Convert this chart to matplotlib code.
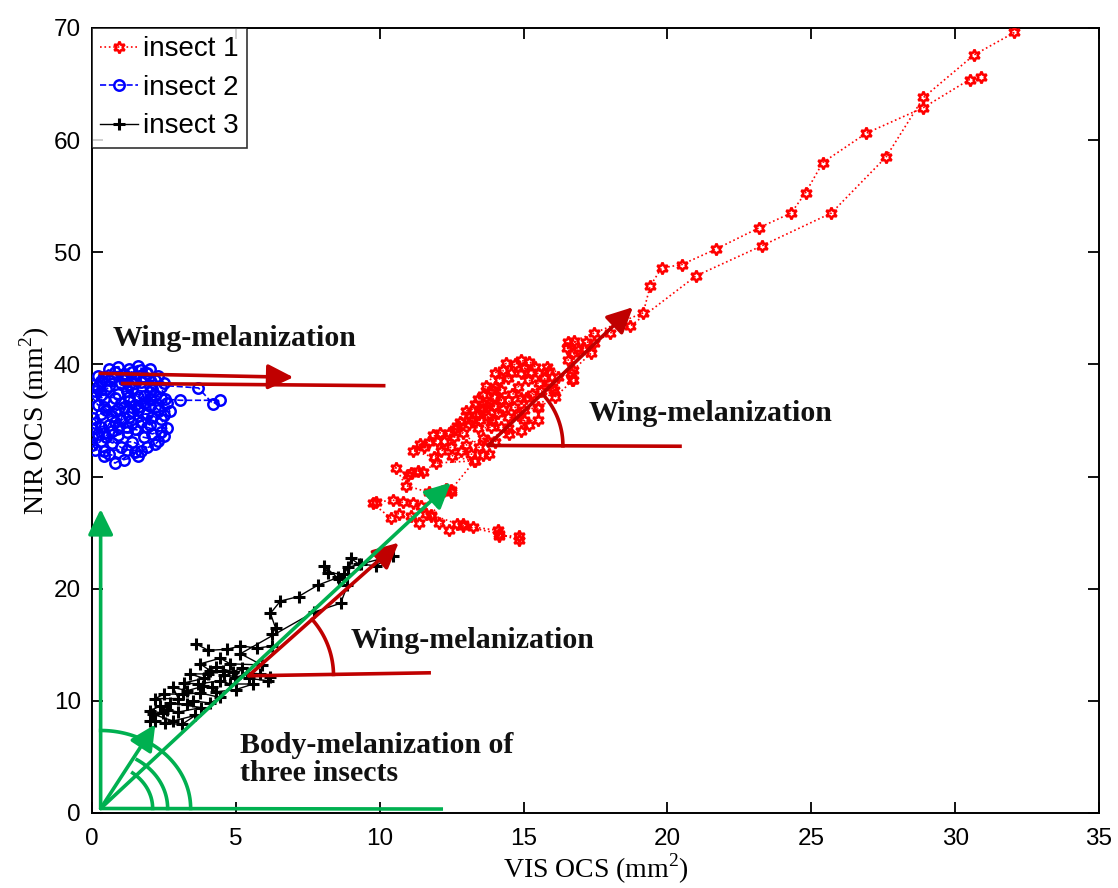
import numpy as np
import matplotlib
matplotlib.use("Agg")
import matplotlib.pyplot as plt

# ---- trajectories in the (VIS OCS, NIR OCS) plane, mm^2 ----
insect1_vis = [32.06, 30.66, 28.9, 27.6, 25.7, 23.3, 21.0, 18.7, 18.0, 17.46, 17.18, 16.55, 16.5, 16.72,
               17.35, 16.72, 16.72, 16.1, 15.5, 15.5, 15.0, 14.46, 14.1, 14.46, 14.67, 15.0, 15.5, 16.06,
               15.9, 15.7, 15.5, 15.26, 15.0, 14.56, 14.46, 14.8, 15.15, 15.54, 15.3, 14.9, 14.3, 13.9,
               13.5, 13.17, 13.4, 13.87, 14.2, 14.46, 13.76, 13.45, 12.9, 12.58, 12.23, 11.85, 11.53, 11.15,
               11.9, 12.13, 12.47, 12.82, 13.17, 13.6, 13.8, 13.28, 11.95, 11.5, 11.32, 11.08, 10.98, 10.56,
               10.9, 11.7, 12.3, 12.47, 11.43, 11.15, 10.8, 10.45, 9.86, 9.76, 10.38, 10.66, 11.08, 11.36,
               11.6, 11.78, 12.06, 12.4, 12.7, 12.9, 13.24, 14.1, 14.15, 14.84, 14.84, 14.15, 12.9, 11.78,
               12.47, 13.3, 12.5, 13.0, 13.6, 14.0, 14.5, 14.9, 15.2, 14.8, 14.2, 13.6, 13.1, 12.6, 12.1,
               11.7, 11.4, 12.0, 12.4, 12.8, 13.1, 13.4, 13.7, 14.0, 14.4, 14.9, 15.4, 15.9, 16.2, 16.0,
               15.6, 15.1, 14.6, 14.2, 13.8, 13.5, 12.7, 13.0, 13.3, 13.6, 13.97, 13.76, 13.45, 13.76,
               13.97, 13.9, 14.2, 14.0, 14.15, 14.3, 14.7, 14.9, 15.2, 15.8, 16.7, 16.65, 16.55, 16.9,
               17.1, 16.76, 17.46, 19.16, 19.4, 19.8, 20.5, 21.7, 23.2, 24.3, 24.8, 25.4, 26.9, 28.9,
               30.5, 30.9]
insect1_nir = [69.6, 67.6, 63.8, 58.5, 53.5, 50.6, 47.9, 43.4, 42.8, 41.9, 42.0, 42.0, 41.5, 41.0,
               41.0, 39.5, 38.6, 37.1, 36.1, 35.0, 35.0, 35.3, 35.7, 36.8, 36.2, 35.9, 36.2, 37.7,
               38.3, 38.8, 39.2, 39.3, 39.7, 39.2, 38.8, 38.0, 38.6, 38.3, 37.4, 37.0, 36.0, 35.0,
               35.0, 35.0, 34.3, 34.4, 34.4, 34.3, 33.2, 32.6, 33.9, 33.5, 33.2, 33.7, 32.6, 32.3,
               31.7, 32.3, 32.6, 32.3, 32.0, 31.9, 32.0, 31.4, 31.2, 30.4, 30.5, 30.3, 30.1, 30.8,
               29.2, 28.6, 28.9, 28.6, 27.4, 27.6, 27.7, 27.9, 27.7, 27.6, 26.3, 26.7, 26.5, 25.9,
               26.7, 26.5, 25.9, 25.2, 25.8, 25.8, 25.5, 25.2, 24.7, 24.7, 24.3, 24.9, 25.6, 26.6,
               28.8, 31.4, 31.8, 32.8, 33.4, 33.1, 33.8, 34.1, 34.6, 35.5, 36.8, 36.0, 34.7, 34.2, 33.9,
               33.1, 32.9, 33.2, 33.9, 34.9, 35.5, 36.9, 38.1, 39.2, 40.1, 40.4, 39.8, 39.4, 38.9, 38.0,
               37.6, 37.0, 37.4, 36.8, 36.6, 36.0, 34.5, 35.8, 36.5, 37.3, 37.1, 36.2, 35.6, 35.3,
               36.3, 37.7, 37.7, 38.0, 38.6, 39.5, 40.0, 39.2, 40.2, 39.8, 38.6, 39.2, 40.4, 41.3,
               41.5, 42.1, 42.8, 44.6, 47.0, 48.6, 48.9, 50.3, 52.2, 53.5, 55.3, 58.0, 60.6, 62.9,
               65.4, 65.6]

insect2_vis = [0.3, 0.8, 1.3, 1.6, 1.9, 2.2, 1.7, 1.2, 0.6, 0.1, 0.4, 0.9, 1.4, 2.0, 2.4, 1.8, 1.1, 0.5,
               0.05, 0.3, 0.8, 1.3, 1.9, 2.4, 2.6, 2.1, 1.5, 0.9, 0.3, 0.1, 0.6, 1.1, 1.6, 1.9, 1.4, 0.7,
               0.2, 0.6, 1.2, 1.7, 2.3, 2.0, 1.5, 0.9, 0.2, 0.0, 0.5, 1.0, 1.6, 2.2, 2.5, 2.0, 1.4, 0.7,
               0.1, 0.4, 1.0, 1.5, 0.8, 0.4, 0.0, 0.5, 1.2, 1.8, 2.3, 2.4, 1.9, 1.3, 0.8, 0.3, 0.6, 1.1,
               1.5, 2.0, 2.5, 2.3, 1.8, 1.3, 0.7, 0.2, 0.4, 1.0, 1.6, 2.1, 0.2, 0.9, 1.4, 2.0, 2.4, 2.6,
               2.7, 2.5, 2.2, 1.7, 1.2, 0.4, 0.0, 0.0, 0.7, 1.4, 2.1, 1.0, 0.3, 0.8, 1.8, 1.2, 0.4, 0.05,
               0.6, 1.1, 1.7, 2.2, 1.6, 0.9, 1.5, 3.7, 4.2, 4.46, 3.07, 2.54, 2.0, 1.3]
insect2_nir = [38.5, 39.3, 39.6, 39.9, 39.2, 38.6, 38.4, 38.9, 38.1, 37.6, 36.9, 37.4, 37.8, 37.5, 37.0,
               36.6, 36.2, 35.9, 35.2, 34.4, 34.9, 35.3, 35.6, 35.1, 34.3, 33.8, 34.2, 33.7, 33.2, 32.4,
               32.0, 31.5, 31.8, 32.6, 33.1, 33.0, 33.8, 34.6, 34.4, 34.9, 35.9, 36.9, 36.4, 36.0, 36.4,
               37.1, 37.8, 38.3, 37.1, 36.2, 35.5, 34.6, 35.8, 35.4, 34.8, 33.9, 32.6, 32.2, 31.2, 31.8,
               32.8, 33.5, 34.0, 33.5, 33.2, 34.0, 34.4, 36.7, 37.0, 37.3, 38.6, 39.1, 38.7, 38.1, 38.3,
               39.0, 38.9, 38.2, 38.8, 38.0, 36.2, 35.0, 35.9, 37.8, 39.0, 39.8, 39.3, 39.6, 38.0, 36.6,
               35.8, 33.6, 32.9, 32.3, 32.4, 32.3, 33.5, 34.2, 34.1, 34.8, 35.3, 36.6, 35.6, 35.8, 37.2,
               37.6, 38.9, 38.2, 39.6, 38.6, 39.5, 37.3, 36.2, 34.4, 38.3, 37.9, 36.5, 36.8, 36.8, 36.9,
               36.3, 37.1]

insect3_vis = [2.02, 2.2, 2.54, 3.13, 3.59, 2.82, 2.13, 2.47, 2.02, 2.37, 2.6, 3.0, 3.8, 2.72, 3.3,
               3.52, 4.1, 4.46, 3.76, 3.17, 2.5, 2.2, 3.0, 2.82, 3.3, 3.87, 4.18, 4.3, 5.0, 5.6, 4.8,
               4.46, 3.7, 3.2, 3.9, 3.4, 4.04, 4.56, 4.6, 5.44, 6.1, 6.2, 5.85, 5.4, 4.98, 5.2, 4.9,
               4.3, 4.1, 3.76, 4.46, 4.8, 5.9, 5.16, 7.7, 8.64, 8.88, 9.0, 9.27, 9.86, 10.45, 10.1,
               9.34, 8.9, 8.75, 8.2, 8.05, 8.57, 8.54, 7.84, 7.18, 6.55, 6.2, 6.38, 6.27, 6.27, 5.75,
               5.16, 4.7, 4.04, 3.6]
insect3_nir = [8.2, 8.2, 8.0, 7.9, 8.7, 8.2, 8.8, 8.9, 9.1, 9.55, 9.2, 9.0, 9.4, 9.8, 9.7,
               10.0, 9.8, 10.3, 10.7, 10.6, 10.6, 10.2, 10.2, 11.2, 10.9, 11.3, 11.2, 10.8, 11.0, 11.5, 11.5,
               11.8, 11.5, 11.6, 12.0, 12.4, 12.4, 12.7, 12.3, 12.0, 11.8, 12.1, 12.4, 12.5, 12.05, 12.9, 12.6,
               13.0, 12.7, 13.3, 13.8, 13.3, 13.2, 14.2, 17.9, 18.7, 20.3, 22.7, 22.2, 22.05, 22.9, 22.7,
               22.2, 21.9, 21.3, 21.4, 22.05, 20.9, 21.0, 20.3, 19.3, 18.9, 17.8, 16.5, 16.0, 14.9, 14.7,
               14.9, 14.6, 14.5, 15.1]

series_labels = ["insect 1", "insect 2", "insect 3"]
x_ticks = [0, 5, 10, 15, 20, 25, 30, 35]
y_ticks = [0, 10, 20, 30, 40, 50, 60, 70]

DARK_RED = "#C00000"
GREEN = "#00B050"
SERIF = ["Liberation Serif", "DejaVu Serif"]
SANS = ["Liberation Sans", "DejaVu Sans"]

plt.rcParams["font.family"] = SANS
plt.rcParams["mathtext.fontset"] = "custom"
plt.rcParams["mathtext.rm"] = "Liberation Serif"

fig = plt.figure(figsize=(11.18, 8.88), dpi=100)
ax = fig.add_axes([0.0823, 0.0845, 0.9007, 0.884])
ax.set_xlim(0, 35)
ax.set_ylim(0, 70)

star6 = (6, 1, 0)
ax.plot(insect1_vis, insect1_nir, ls=":", color="red", lw=1.2, marker=star6, ms=8.5,
        mfc="none", mec="red", mew=1.8, label=series_labels[0], zorder=3)
ax.plot(insect2_vis, insect2_nir, ls="--", color="blue", lw=1.2, marker="o", ms=7.5,
        mfc="none", mec="blue", mew=1.8, label=series_labels[1], zorder=3)
ax.plot(insect3_vis, insect3_nir, ls="-", color="black", lw=1.0, marker="+", ms=9,
        mew=2.2, label=series_labels[2], zorder=3)


def arrow(p0, p1, color):
    ax.annotate("", xy=p1, xytext=p0,
                arrowprops=dict(arrowstyle="-|>,head_length=0.65,head_width=0.32",
                                mutation_scale=24, lw=2.6, color=color,
                                shrinkA=0, shrinkB=0), zorder=4)


def segment(p0, p1, color):
    ax.plot([p0[0], p1[0]], [p0[1], p1[1]], color=color, lw=2.6, zorder=4,
            solid_capstyle="butt")


def angle_of(p0, p1):
    a = ax.transData.transform(p0)
    b = ax.transData.transform(p1)
    return np.degrees(np.arctan2(b[1] - a[1], b[0] - a[0]))


def arc(center, rx, ry, t1, t2, color):
    c = ax.transData.transform(center)
    t = np.radians(np.linspace(t1, t2, 80))
    pts = np.column_stack([c[0] + rx * np.cos(t), c[1] + ry * np.sin(t)])
    d = ax.transData.inverted().transform(pts)
    ax.plot(d[:, 0], d[:, 1], color=color, lw=2.6, zorder=4)


# wing melanization of insect 2
arrow((0.28, 39.2), (7.0, 38.85), DARK_RED)
segment((1.0, 38.3), (10.2, 38.1), DARK_RED)

# wing melanization of insect 1
v1, tip1, end1 = (13.76, 32.77), (18.8, 45.1), (20.5, 32.7)
arrow(v1, tip1, DARK_RED)
segment(v1, end1, DARK_RED)
arc(v1, 75, 75, angle_of(v1, end1), angle_of(v1, tip1), DARK_RED)

# wing melanization of insect 3
v3, tip3, end3 = (5.44, 12.23), (10.66, 24.1), (11.78, 12.5)
arrow(v3, tip3, DARK_RED)
segment(v3, end3, DARK_RED)
arc(v3, 85, 85, angle_of(v3, end3), angle_of(v3, tip3), DARK_RED)

# body melanization
o = (0.3, 0.4)
arrow(o, (0.3, 27.1), GREEN)
segment(o, (12.2, 0.35), GREEN)
arrow(o, (12.47, 29.46), GREEN)
arrow(o, (2.2, 7.9), GREEN)
arc(o, 52, 45, 0, 52, GREEN)
arc(o, 67, 58, 0, 57, GREEN)
arc(o, 90, 78, 0, 90, GREEN)

txt = dict(family=SERIF, fontweight="bold", fontsize=21.5, color="#111111",
           va="center", ha="left", zorder=5)
ax.text(0.70, 42.3, "Wing-melanization", **txt)
ax.text(17.25, 35.6, "Wing-melanization", **txt)
ax.text(8.99, 15.36, "Wing-melanization", **txt)
ax.text(5.16, 4.73, "Body-melanization of\nthree insects", linespacing=1.05, **txt)

ax.set_xticks(x_ticks)
ax.set_yticks(y_ticks)
ax.tick_params(direction="in", length=8, width=1.3, top=True, right=True,
               labelsize=17.5, colors="black")
ax.tick_params(axis="x", pad=11)
ax.tick_params(axis="y", pad=8)
for s in ax.spines.values():
    s.set_linewidth(1.4)

ax.set_xlabel(r"VIS OCS (mm$^{\mathregular{2}}$)", family=SERIF, fontsize=20, labelpad=1)
ax.set_ylabel(r"NIR OCS (mm$^{\mathregular{2}}$)", family=SERIF, fontsize=20, labelpad=1)

leg = ax.legend(loc="upper left", fontsize=20, frameon=True, fancybox=False,
                edgecolor="black", borderaxespad=0, handlelength=1.35,
                handletextpad=0.2, borderpad=0.3, labelspacing=0.45)
leg.get_frame().set_linewidth(1.2)

fig.savefig("out.png", dpi=100)
